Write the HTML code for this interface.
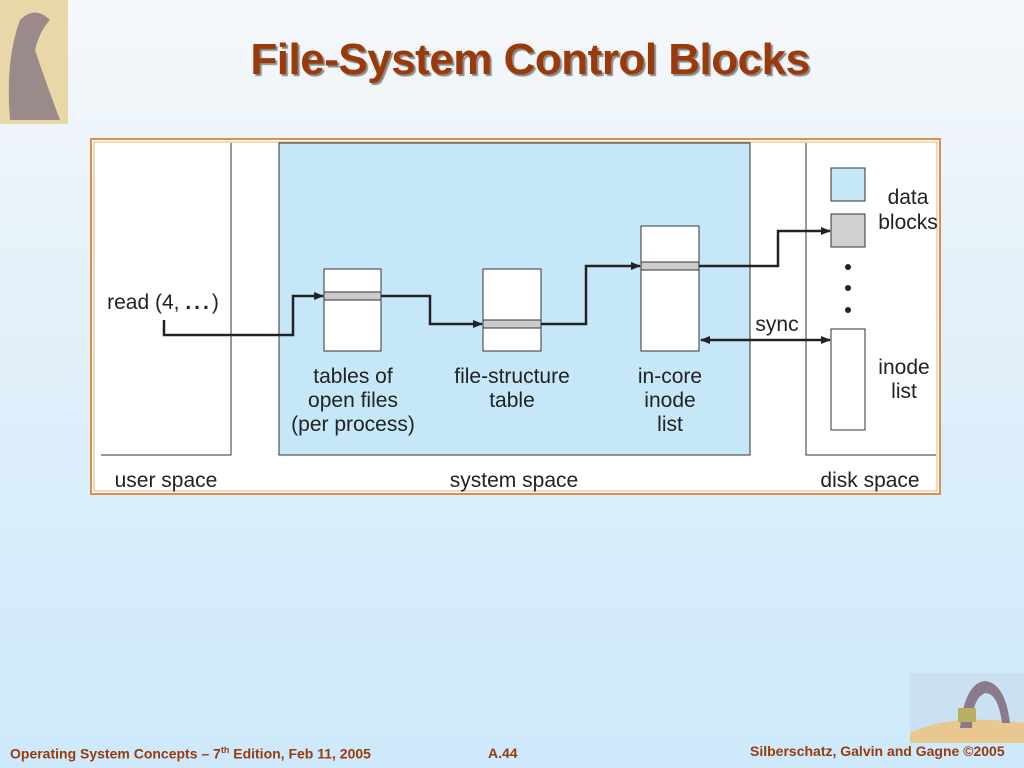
<!DOCTYPE html>
<html><head><meta charset="utf-8"><style>
html,body{margin:0;padding:0}
body{width:1024px;height:768px;overflow:hidden;background:linear-gradient(#f6f8fa 0%,#e3f0f9 40%,#cde9fb 100%);position:relative;font-family:"Liberation Sans",sans-serif}
.t{position:absolute;left:0;width:1060px;text-align:center;top:35px;font-size:44px;font-weight:bold;color:#9a3a0a;text-shadow:2px 2px 1px #888;letter-spacing:-0.5px}
.f{position:absolute;top:745px;font-size:14px;font-weight:bold;color:#9a3a0a}
</style></head><body>
<svg width="68" height="124" style="position:absolute;left:0;top:0"><rect width="68" height="124" fill="#e8d8a8"/><path d="M10 120 Q5 60 20 20 Q35 5 50 20 Q40 30 35 50 Q45 80 60 120Z" fill="#9a8a8a"/></svg>
<svg width="114" height="70" style="position:absolute;top:673px;left:910px"><rect width="114" height="70" fill="#c9e1f2"/><path d="M0 60 Q40 40 114 50 L114 70 L0 70Z" fill="#e8c890"/><path d="M50 55 Q55 10 75 8 Q95 10 100 50 L92 50 Q88 20 75 20 Q62 25 62 55Z" fill="#8a7a8a"/><rect x="48" y="35" width="18" height="14" fill="#b8b060"/></svg>
<div class="t">File-System Control Blocks</div>
<svg width="1024" height="768" style="position:absolute;left:0;top:0" font-family="Liberation Sans, sans-serif">
<defs><marker id="a" markerWidth="10" markerHeight="8" refX="9" refY="4" orient="auto" markerUnits="userSpaceOnUse"><path d="M0 0L10 4L0 8Z" fill="#222"/></marker>
<marker id="b" markerWidth="10" markerHeight="8" refX="1" refY="4" orient="auto" markerUnits="userSpaceOnUse"><path d="M10 0L0 4L10 8Z" fill="#222"/></marker></defs>
<rect x="91" y="139" width="849" height="355" fill="#fff" stroke="#d9904a" stroke-width="2"/>
<rect x="94" y="142" width="843" height="349" fill="none" stroke="#e8b070" stroke-width="1"/>
<rect x="279" y="143" width="471" height="312" fill="#c6e7f8" stroke="#333" stroke-width="1"/>
<path d="M231 143V455H101M806 143V455H936" fill="none" stroke="#333"/>
<g stroke="#333" fill="#fff">
<rect x="324" y="269" width="57" height="82"/><rect x="324" y="292" width="57" height="8" fill="#ccc"/>
<rect x="483" y="269" width="58" height="82"/><rect x="483" y="320" width="58" height="8" fill="#ccc"/>
<rect x="641" y="226" width="58" height="125"/><rect x="641" y="262" width="58" height="8" fill="#ccc"/>
<rect x="831" y="168" width="34" height="33" fill="#c6e7f8"/>
<rect x="831" y="214" width="34" height="33" fill="#d0d0d0"/>
<rect x="831" y="329" width="34" height="101"/>
</g>
<g fill="#222"><circle cx="848" cy="267" r="3"/><circle cx="848" cy="288" r="3"/><circle cx="848" cy="310" r="3"/></g>
<g fill="none" stroke="#222" stroke-width="2.5">
<path d="M164 320V335H293V296H323" marker-end="url(#a)"/>
<path d="M381 296H430V324H482" marker-end="url(#a)"/>
<path d="M541 324H586V266H640" marker-end="url(#a)"/>
<path d="M699 266H778V231H830" marker-end="url(#a)"/>
<path d="M701 340H830" marker-end="url(#a)" marker-start="url(#b)"/>
</g>
<g font-size="21" fill="#222" text-anchor="middle">
<text x="163" y="309">read (4, <tspan font-weight="bold" letter-spacing="3">...</tspan>)</text>
<text x="353" y="383">tables of</text><text x="353" y="407">open files</text><text x="353" y="431">(per process)</text>
<text x="512" y="383">file-structure</text><text x="512" y="407">table</text>
<text x="670" y="383">in-core</text><text x="670" y="407">inode</text><text x="670" y="431">list</text>
<text x="777" y="331">sync</text>
<text x="908" y="204">data</text><text x="908" y="229">blocks</text>
<text x="904" y="374">inode</text><text x="904" y="398">list</text>
<text x="166" y="487">user space</text><text x="514" y="487">system space</text><text x="870" y="487">disk space</text>
</g>
</svg>
<div class="f" style="left:10px;transform:scaleX(1.0);">Operating System Concepts – 7<sup style="font-size:9px">th</sup> Edition, Feb 11, 2005</div>
<div class="f" style="left:488px">A.44</div>
<div class="f" style="left:750px;top:743px">Silberschatz, Galvin and Gagne ©2005</div>
</body></html>
